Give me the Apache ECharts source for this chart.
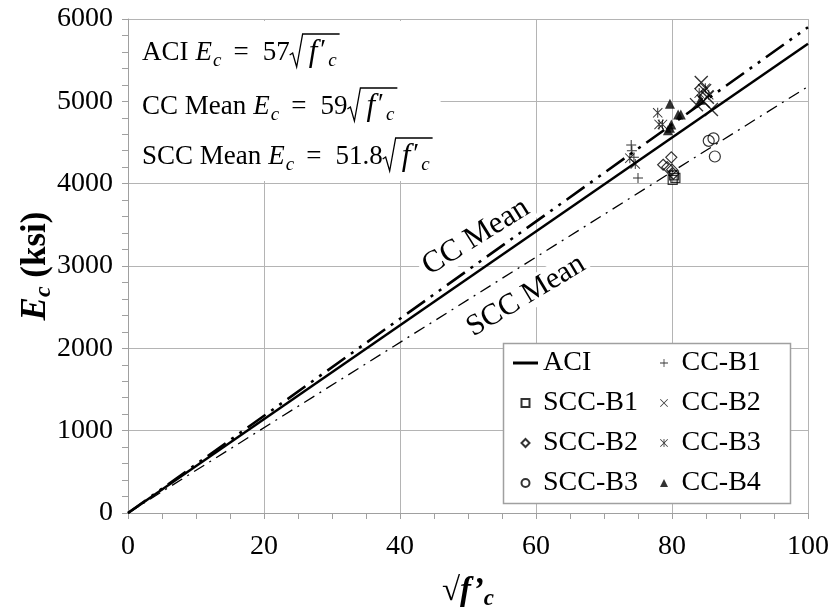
<!DOCTYPE html>
<html>
<head>
<meta charset="utf-8">
<script src="https://cdn.jsdelivr.net/npm/echarts@6/dist/echarts.min.js"></script>
<style>html,body{margin:0;padding:0;background:#fff;}</style>
</head>
<body>
<div id="chart" style="width:831px;height:607px;"></div>
<script>
const SERIF = '"Liberation Serif", "Times New Roman", serif';

// fitted lines, Ec = k * sqrt(f'c), drawn between x = 0 and x = 100
const aciLine = [[0, 0], [100, 5700]];
const ccMeanLine = [[0, 0], [100, 5900]];
const sccMeanLine = [[0, 0], [100, 5180]];

// measured points [sqrt(f'c), Ec]
const ccB1 = [[74.0, 4470], [74.1, 4400], [74.4, 4320], [75.0, 4070]];
const ccB2 = [[84.3, 5230], [84.8, 5130], [85.2, 5050], [83.6, 4960], [85.8, 4900], [84.6, 5000]];
const ccB3 = [[73.8, 4310], [74.6, 4240], [77.9, 4860], [78.1, 4720], [78.6, 4720], [84.9, 5160], [85.4, 5080], [84.0, 5100]];
const ccB4 = [[79.7, 4970], [80.9, 4840], [81.3, 4840], [79.9, 4720], [79.7, 4680], [79.4, 4650], [84.2, 5020]];
const sccB1 = [[80.1, 4045], [80.5, 4070], [80.3, 4100]];
const sccB2 = [[79.9, 4320], [78.7, 4230], [79.3, 4200], [80.0, 4170], [80.2, 4120]];
const sccB3 = [[85.4, 4520], [86.1, 4550], [86.3, 4330]];

const leftLegend = ['ACI', 'SCC-B1', 'SCC-B2', 'SCC-B3'];
const rightLegend = ['CC-B1', 'CC-B2', 'CC-B3', 'CC-B4'];

const plusPath = 'path://M4.5,0h1v10h-1z M0,4.5h10v1h-10z';
const crossPath = 'path://M0.7,0L10,9.3L9.3,10L0,0.7Z M9.3,0L10,0.7L0.7,10L0,9.3Z';
const starPath = 'path://M0.7,0L10,9.3L9.3,10L0,0.7Z M9.3,0L10,0.7L0.7,10L0,9.3Z M4.5,0h1v10h-1z';
const rectPath = 'path://M0,0h10v10h-10z';
const diamondPath = 'path://M5,0L10,5L5,10L0,5Z';
const triPath = 'path://M5,0L10,10L0,10Z';
const dashPath = 'path://M0,0h25v3h-25z';

const chart = echarts.init(document.getElementById('chart'));

// text measuring for the equation block
const ctx = document.createElement('canvas').getContext('2d');
function textW(t, font) { ctx.font = font; return ctx.measureText(t).width; }

const eqElems = [];
function eqLine(id, x0, yc, prefix, coef) {
  const reg = '27px ' + SERIF, it = 'italic 27px ' + SERIF, sub = 'italic 19px ' + SERIF;
  const bigF = 'italic 31px ' + SERIF;
  // [text, font, gap before, vertical shift]
  const parts = [
    [prefix, reg, 0, 0], ['E', it, 7, 0], ['c', sub, 1, 8], ['=', reg, 12, 0], [coef, reg, 14, 0],
    'rad', ['f', bigF, 6, 0], ['\u2032', reg, 3, -2], ['c', sub, 2, 8]
  ];
  let x = x0, radX = 0, k = 0;
  parts.forEach(p => {
    if (p === 'rad') { radX = x; x += 13; return; }
    x += p[2];
    eqElems.push({
      type: 'text', id: id + '_' + (k++), x: x, y: yc + p[3], z: 30,
      style: { text: p[0], font: p[1], fill: '#000', align: 'left', verticalAlign: 'middle' }
    });
    x += textW(p[0], p[1]);
  });
  const pts = [[radX, 2], [radX + 3, 0], [radX + 7, 14], [radX + 13, -19], [x + 3, -19]]
    .map(q => [q[0], yc + q[1]]);
  eqElems.push({
    type: 'polyline', id: id + '_rad', z: 30,
    shape: { points: pts },
    style: { stroke: '#000', lineWidth: 1.3, fill: 'none' }
  });
  return x + 3;
}
const eqRight = Math.max(
  eqLine('aci', 142, 53, 'ACI', '57'),
  eqLine('cc', 142, 107, 'CC Mean', '59'),
  eqLine('scc', 142, 157, 'SCC Mean', '51.8')
);

const legendText = { fontFamily: SERIF, fontSize: 28, lineHeight: 30, color: '#000' };

const option = {
  animation: false,
  grid: { left: 128, right: 23, top: 19, bottom: 94, outerBoundsMode: 'none', containLabel: false },
  xAxis: {
    type: 'value', min: 0, max: 100, interval: 20,
    name: '{r|\u221a}{f|f\u2019}{c|c}',
    nameLocation: 'middle', nameGap: 58, nameMoveOverlap: false,
    nameTextStyle: {
      color: '#000',
      rich: {
        r: { color: '#000', fontFamily: SERIF, fontSize: 33, fontWeight: 'bold' },
        f: { color: '#000', fontFamily: SERIF, fontSize: 33, fontWeight: 'bold', fontStyle: 'italic' },
        c: { color: '#000', fontFamily: SERIF, fontSize: 23, fontWeight: 'bold', fontStyle: 'italic', padding: [17, 0, 0, 0] }
      }
    },
    axisLine: { lineStyle: { color: '#a0a0a0', width: 1 } },
    axisTick: { length: 6, lineStyle: { color: '#a0a0a0' } },
    minorTick: { show: true, splitNumber: 4, length: 6, lineStyle: { color: '#a0a0a0' } },
    splitLine: { lineStyle: { color: '#b4b4b4' } },
    axisLabel: { color: '#000', fontFamily: SERIF, fontSize: 28, margin: 20, formatter: v => String(v) }
  },
  yAxis: {
    type: 'value', min: 0, max: 6000, interval: 1000,
    name: '{e|E}{c|c}{n| (ksi)}',
    nameLocation: 'middle', nameGap: 72, nameMoveOverlap: false,
    nameTextStyle: {
      color: '#000',
      rich: {
        e: { color: '#000', fontFamily: SERIF, fontSize: 35, fontWeight: 'bold', fontStyle: 'italic' },
        c: { color: '#000', fontFamily: SERIF, fontSize: 24, fontWeight: 'bold', fontStyle: 'italic', padding: [17, 0, 0, 0] },
        n: { color: '#000', fontFamily: SERIF, fontSize: 35, fontWeight: 'bold' }
      }
    },
    axisLine: { show: true, lineStyle: { color: '#a0a0a0', width: 1 } },
    axisTick: { show: true, length: 6, lineStyle: { color: '#a0a0a0' } },
    minorTick: { show: true, splitNumber: 5, length: 6, lineStyle: { color: '#a0a0a0' } },
    splitLine: { lineStyle: { color: '#b4b4b4' } },
    axisLabel: { color: '#000', fontFamily: SERIF, fontSize: 28, margin: 15, formatter: v => String(v) }
  },
  legend: [
    {
      data: [{ name: 'ACI', icon: dashPath }].concat(leftLegend.slice(1)),
      orient: 'vertical', left: 513, top: 348, padding: 0,
      itemWidth: 25, itemHeight: 8, itemGap: 10, z: 20, symbolKeepAspect: true,
      textStyle: legendText
    },
    {
      data: rightLegend, orient: 'vertical', left: 660, top: 348, padding: 0,
      itemWidth: 25, itemHeight: 8, itemGap: 10, z: 20, symbolKeepAspect: true,
      textStyle: legendText
    }
  ],
  graphic: [
    { type: 'rect', id: 'eqbox', z: 25, shape: { x: 129, y: 21, width: eqRight + 8 - 129, height: 160 }, style: { fill: '#ffffff', stroke: 'none' } },
    { type: 'rect', id: 'legbox', z: 15, shape: { x: 503.5, y: 343.5, width: 287, height: 160 }, style: { fill: '#fff', stroke: '#a0a0a0', lineWidth: 1.5 } },
    {
      type: 'text', id: 'ccLab', z: 11, x: 476, y: 237, rotation: 32 * Math.PI / 180,
      style: { text: 'CC Mean', font: '31px ' + SERIF, fill: '#000', align: 'center', verticalAlign: 'middle', backgroundColor: '#fff', padding: [0, 4] }
    },
    {
      type: 'text', id: 'sccLab', z: 11, x: 526, y: 296, rotation: 31 * Math.PI / 180,
      style: { text: 'SCC Mean', font: '30px ' + SERIF, fill: '#000', align: 'center', verticalAlign: 'middle', backgroundColor: '#fff', padding: [0, 4] }
    }
  ].concat(eqElems),
  series: [
    { name: 'ACI', type: 'line', data: aciLine, symbol: 'none', z: 3, itemStyle: { color: '#000' }, lineStyle: { color: '#000', width: 2.5 } },
    { name: 'CC Mean', type: 'line', data: ccMeanLine, symbol: 'none', z: 3, lineStyle: { color: '#000', width: 2.6, type: [22, 7, 3, 7, 3, 7] } },
    { name: 'SCC Mean', type: 'line', data: sccMeanLine, symbol: 'none', z: 3, lineStyle: { color: '#000', width: 1.3, type: [12, 6, 2, 6] } },
    { name: 'SCC-B1', type: 'scatter', data: sccB1, symbol: rectPath, symbolSize: 9, itemStyle: { color: 'rgba(0,0,0,0)', borderColor: '#000', borderWidth: 1.2 } },
    { name: 'SCC-B2', type: 'scatter', data: sccB2, symbol: diamondPath, symbolSize: 11, itemStyle: { color: 'rgba(0,0,0,0)', borderColor: '#000', borderWidth: 1.2 } },
    { name: 'SCC-B3', type: 'scatter', data: sccB3, symbol: 'circle', symbolSize: 11, itemStyle: { color: 'rgba(0,0,0,0)', borderColor: '#000', borderWidth: 1.2 } },
    { name: 'CC-B1', type: 'scatter', data: ccB1, symbol: plusPath, symbolSize: 10, itemStyle: { color: '#000' } },
    { name: 'CC-B2', type: 'scatter', data: ccB2, symbol: crossPath, symbolSize: 14, itemStyle: { color: '#000' } },
    { name: 'CC-B3', type: 'scatter', data: ccB3, symbol: starPath, symbolSize: 10, itemStyle: { color: '#000' } },
    { name: 'CC-B4', type: 'scatter', data: ccB4, symbol: triPath, symbolSize: 10, itemStyle: { color: '#000' } }
  ]
};
chart.setOption(option);
</script>
</body>
</html>
